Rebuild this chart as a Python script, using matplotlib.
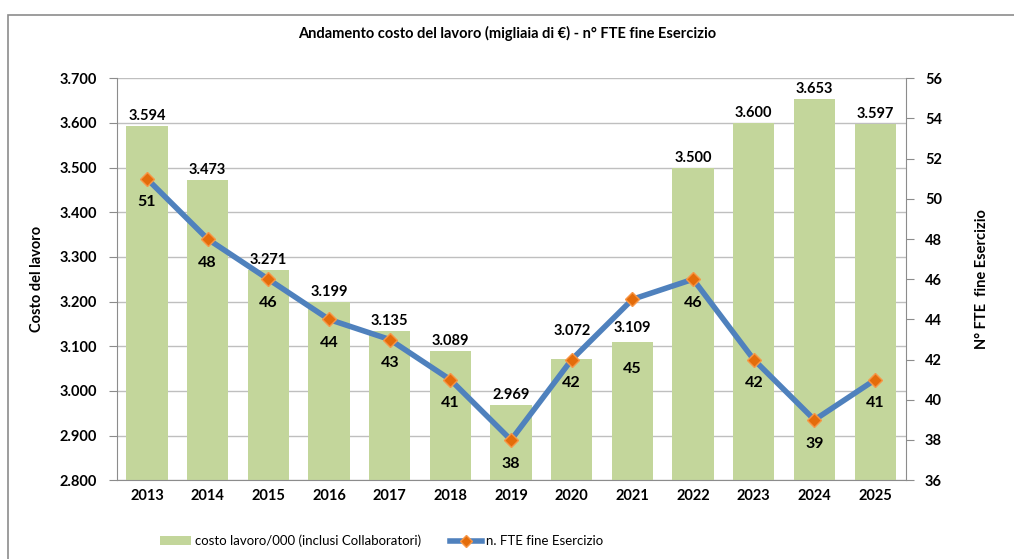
import matplotlib.pyplot as plt
from matplotlib.patches import Rectangle, Patch
from matplotlib.lines import Line2D

plt.rcParams['font.family'] = ['Lato', 'DejaVu Sans']

years = ['2013', '2014', '2015', '2016', '2017', '2018', '2019',
         '2020', '2021', '2022', '2023', '2024', '2025']
costo = [3594, 3473, 3271, 3199, 3135, 3089, 2969,
         3072, 3109, 3500, 3600, 3653, 3597]
fte = [51, 48, 46, 44, 43, 41, 38, 42, 45, 46, 42, 39, 41]

# etichette spostate a mano per non sovrapporsi (2020 / 2021)
bar_label_offset = {7: 15, 8: 5}
fte_label_offset = {8: -45}


def fmt_k(v):
    return f"{v / 1000:.3f}"


fig = plt.figure(figsize=(10.14, 5.59), dpi=100)
fig.patches.append(Rectangle((0.008, -0.01), 1.1, 0.983, transform=fig.transFigure,
                             fill=False, edgecolor='#8c8c8c', linewidth=1.2))

ax = fig.add_axes([0.115, 0.141, 0.778, 0.719])
x = list(range(len(years)))
ax.bar(x, costo, width=0.68, color='#c3d69b', zorder=2)
ax.set_ylim(2800, 3700)
ax.set_xlim(-0.5, len(years) - 0.5)
ax.set_yticks(range(2800, 3701, 100))
ax.set_yticklabels([fmt_k(v) for v in range(2800, 3701, 100)],
                   fontsize=10.5, fontweight='bold')
ax.set_xticks(x)
ax.set_xticklabels(years, fontsize=10.5, fontweight='bold')
ax.grid(axis='y', color='#bfbfbf', linewidth=1, zorder=0)
ax.tick_params(axis='y', direction='out', length=6, color='#8c8c8c', pad=8)
ax.tick_params(axis='x', length=0, pad=6)
for s in ['top', 'right']:
    ax.spines[s].set_visible(False)
for s in ['left', 'bottom']:
    ax.spines[s].set_color('#8c8c8c')
ax.set_ylabel('Costo del lavoro', fontsize=10.5, fontweight='bold', labelpad=11)

for i, (xi, v) in enumerate(zip(x, costo)):
    ax.annotate(fmt_k(v), (xi, v), xytext=(0, bar_label_offset.get(i, 2)),
                textcoords='offset points', ha='center', va='bottom',
                fontsize=10.5, fontweight='bold')

ax2 = ax.twinx()
ax2.set_ylim(36, 56)
ax2.set_yticks(range(36, 57, 2))
ax2.set_yticklabels([str(v) for v in range(36, 57, 2)], fontsize=10.5, fontweight='bold')
ax2.plot(x, fte, color='#4f81bd', linewidth=4, marker='D', markersize=7,
         markerfacecolor='#e46c0a', markeredgecolor='#f79646', zorder=3)
ax2.tick_params(axis='y', direction='out', length=6, color='#8c8c8c', pad=8)
for s in ['top', 'left', 'bottom']:
    ax2.spines[s].set_visible(False)
ax2.spines['right'].set_color('#8c8c8c')
ax2.set_ylabel('N° FTE  fine Esercizio', fontsize=10.5, fontweight='bold', labelpad=24)

for i, (xi, v) in enumerate(zip(x, fte)):
    ax2.annotate(str(v), (xi, v), xytext=(0, fte_label_offset.get(i, -12)),
                 textcoords='offset points', ha='center', va='top',
                 fontsize=11.5, fontweight='bold')

fig.text(0.5, 0.94, 'Andamento costo del lavoro (migliaia di €) - n° FTE fine Esercizio',
         ha='center', va='center', fontsize=10.5, fontweight='bold')

handles = [Patch(facecolor='#c3d69b', edgecolor='none'),
           Line2D([0], [0], color='#4f81bd', linewidth=4, marker='D', markersize=6,
                  markerfacecolor='#e46c0a', markeredgecolor='#f79646')]
fig.legend(handles, ['costo lavoro/000 (inclusi Collaboratori)', 'n. FTE fine Esercizio'],
           loc='center', bbox_to_anchor=(0.376, 0.032), ncol=2, frameon=False,
           fontsize=9.5, handlelength=2.4, columnspacing=2.2, handletextpad=0.3)

fig.savefig('out.png', dpi=100)
